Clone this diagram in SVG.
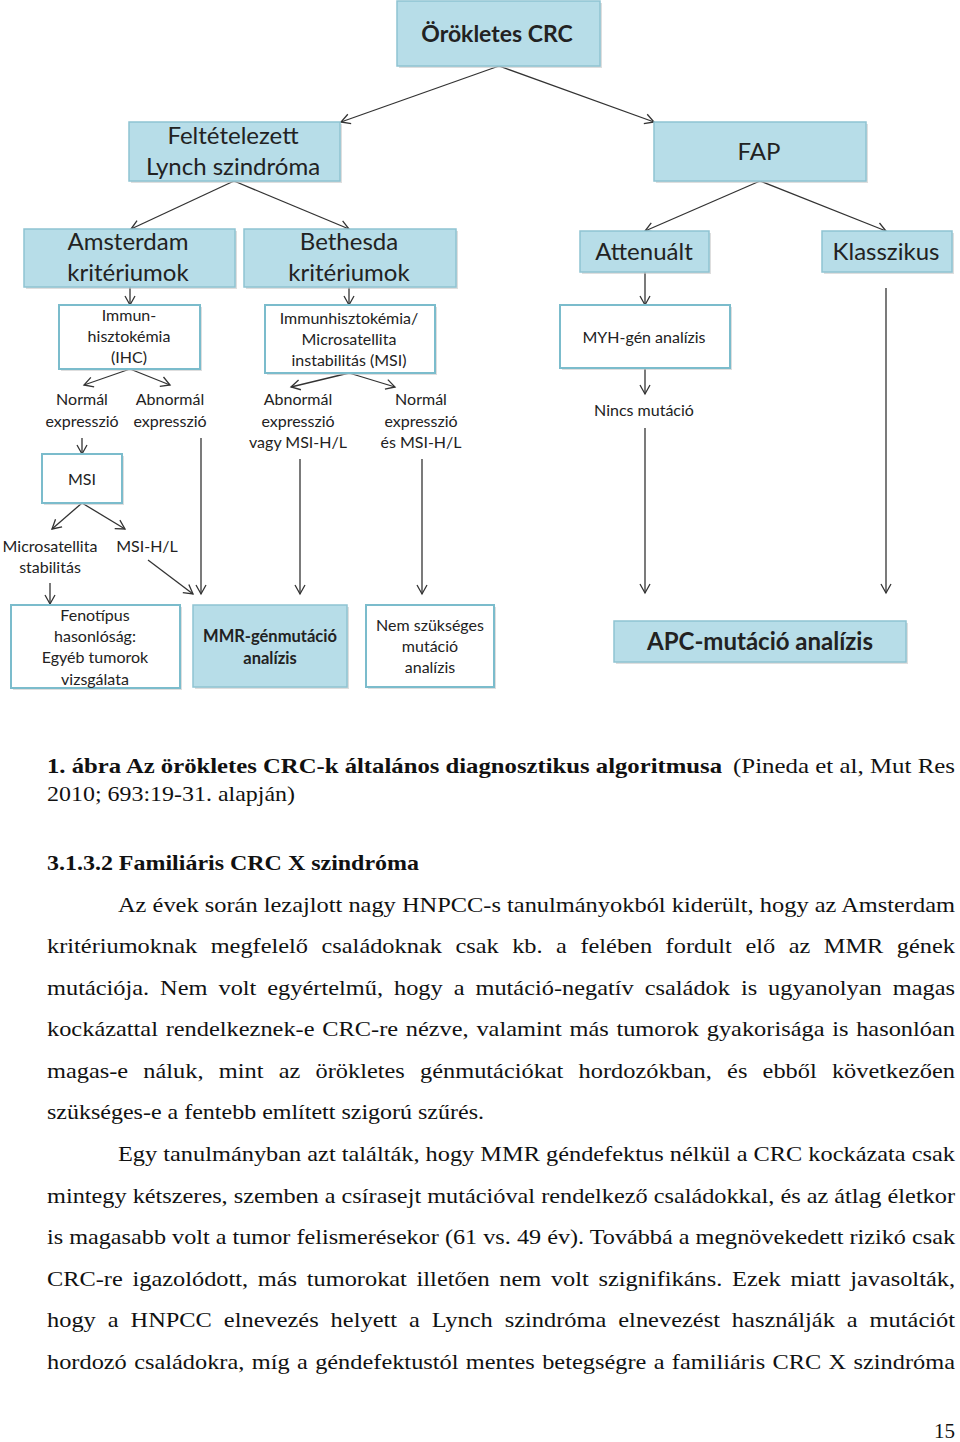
<svg xmlns="http://www.w3.org/2000/svg" width="960" height="1442" viewBox="0 0 960 1442">
<defs>
<marker id="ar" markerWidth="12" markerHeight="12" refX="10" refY="6" orient="auto" markerUnits="userSpaceOnUse">
<path d="M1,1 L10,6 L1,11" fill="none" stroke="#333" stroke-width="1.3"/>
</marker>
</defs>
<style>
.f{fill:#b7dde8;stroke:#8fc3d2;stroke-width:1.5}
.w{fill:#fff;stroke:#7bbccc;stroke-width:2}
.sh{fill:#c8c8c8;opacity:.6}
.t{font-family:Lato,"Open Sans",sans-serif;fill:#222;text-anchor:middle}
.l{font-size:24px}
.s{font-size:16px}
.b{font-weight:bold}
.c{stroke:#333;stroke-width:1.3;fill:none}
.a{marker-end:url(#ar)}
.p{font-family:"Liberation Serif","Times New Roman",serif;font-size:21px;fill:#111}
.pb{font-weight:bold}
</style>
<rect width="960" height="1442" fill="#fff"/>

<g id="connectors">
<line class="c a" x1="499" y1="66" x2="341" y2="122"/>
<line class="c a" x1="499" y1="66" x2="654" y2="122"/>
<line class="c a" x1="234" y1="181" x2="131" y2="229"/>
<line class="c a" x1="234" y1="181" x2="349" y2="229"/>
<line class="c a" x1="760" y1="181" x2="645" y2="231"/>
<line class="c a" x1="760" y1="181" x2="886" y2="231"/>
<line class="c a" x1="130" y1="287" x2="130" y2="305"/>
<line class="c a" x1="349" y1="287" x2="349" y2="305"/>
<line class="c a" x1="645" y1="272" x2="645" y2="305"/>
<line class="c a" x1="130" y1="369" x2="84" y2="385"/>
<line class="c a" x1="130" y1="369" x2="170" y2="385"/>
<line class="c a" x1="349" y1="373" x2="291" y2="387"/>
<line class="c a" x1="349" y1="373" x2="395" y2="387"/>
<line class="c a" x1="82" y1="438" x2="82" y2="454"/>
<line class="c a" x1="201" y1="438" x2="201" y2="594"/>
<line class="c a" x1="300" y1="459" x2="300" y2="594"/>
<line class="c a" x1="422" y1="459" x2="422" y2="594"/>
<line class="c a" x1="82" y1="503" x2="52" y2="529"/>
<line class="c a" x1="82" y1="503" x2="125" y2="529"/>
<line class="c a" x1="50" y1="583" x2="50" y2="604"/>
<line class="c a" x1="148" y1="560" x2="193" y2="594"/>
<line class="c a" x1="645" y1="368" x2="645" y2="394"/>
<line class="c a" x1="645" y1="428" x2="645" y2="593"/>
<line class="c a" x1="886" y1="288" x2="886" y2="593"/>
</g>

<g id="n-orokletes">
<rect class="sh" x="399" y="3" width="203" height="65"/>
<rect class="f" x="397" y="1" width="203" height="65"/>
<text class="t b" style="font-size:23px" x="497" y="42">Örökletes CRC</text>
</g>
<g id="n-lynch">
<rect class="sh" x="131" y="124" width="211" height="59"/>
<rect class="f" x="129" y="122" width="211" height="59"/>
<text class="t l" x="233" y="144">Feltételezett</text>
<text class="t l" x="233" y="175">Lynch szindróma</text>
</g>
<g id="n-fap">
<rect class="sh" x="656" y="124" width="212" height="59"/>
<rect class="f" x="654" y="122" width="212" height="59"/>
<text class="t l" x="759" y="160">FAP</text>
</g>
<g id="n-amsterdam">
<rect class="sh" x="26" y="231" width="211" height="58"/>
<rect class="f" x="24" y="229" width="211" height="58"/>
<text class="t l" x="128" y="250">Amsterdam</text>
<text class="t l" x="128" y="281">kritériumok</text>
</g>
<g id="n-bethesda">
<rect class="sh" x="246" y="231" width="212" height="58"/>
<rect class="f" x="244" y="229" width="212" height="58"/>
<text class="t l" x="349" y="250">Bethesda</text>
<text class="t l" x="349" y="281">kritériumok</text>
</g>
<g id="n-attenualt">
<rect class="sh" x="582" y="233" width="129" height="41"/>
<rect class="f" x="580" y="231" width="129" height="41"/>
<text class="t l" x="644" y="260">Attenuált</text>
</g>
<g id="n-klasszikus">
<rect class="sh" x="824" y="233" width="130" height="41"/>
<rect class="f" x="822" y="231" width="130" height="41"/>
<text class="t l" x="886" y="260">Klasszikus</text>
</g>
<g id="n-ihc">
<rect class="sh" x="61" y="307" width="141" height="64"/>
<rect class="w" x="59" y="305" width="141" height="64"/>
<text class="t s" x="129" y="321">Immun-</text>
<text class="t s" x="129" y="342">hisztokémia</text>
<text class="t s" x="129" y="363">(IHC)</text>
</g>
<g id="n-ihc-msi">
<rect class="sh" x="267" y="307" width="170" height="68"/>
<rect class="w" x="265" y="305" width="170" height="68"/>
<text class="t s" x="349" y="324">Immunhisztokémia/</text>
<text class="t s" x="349" y="345">Microsatellita</text>
<text class="t s" x="349" y="366">instabilitás (MSI)</text>
</g>
<g id="n-myh">
<rect class="sh" x="562" y="307" width="170" height="63"/>
<rect class="w" x="560" y="305" width="170" height="63"/>
<text class="t s" x="644" y="343">MYH-gén analízis</text>
</g>
<g id="lbl-normal1">
<text class="t s" x="82" y="405">Normál</text>
<text class="t s" x="82" y="427">expresszió</text>
</g>
<g id="lbl-abnormal1">
<text class="t s" x="170" y="405">Abnormál</text>
<text class="t s" x="170" y="427">expresszió</text>
</g>
<g id="lbl-abnormal2">
<text class="t s" x="298" y="405">Abnormál</text>
<text class="t s" x="298" y="427">expresszió</text>
<text class="t s" x="298" y="448">vagy MSI-H/L</text>
</g>
<g id="lbl-normal2">
<text class="t s" x="421" y="405">Normál</text>
<text class="t s" x="421" y="427">expresszió</text>
<text class="t s" x="421" y="448">és MSI-H/L</text>
</g>
<g id="lbl-nincs">
<text class="t s" x="644" y="416">Nincs mutáció</text>
</g>
<g id="n-msi">
<rect class="sh" x="44" y="456" width="80" height="49"/>
<rect class="w" x="42" y="454" width="80" height="49"/>
<text class="t s" x="82" y="485">MSI</text>
</g>
<g id="lbl-mss">
<text class="t s" x="50" y="552">Microsatellita</text>
<text class="t s" x="50" y="573">stabilitás</text>
</g>
<g id="lbl-msihl">
<text class="t s" x="147" y="552">MSI-H/L</text>
</g>
<g id="n-fenotipus">
<rect class="sh" x="13" y="607" width="169" height="83"/>
<rect class="w" x="11" y="605" width="169" height="83"/>
<text class="t s" x="95" y="621">Fenotípus</text>
<text class="t s" x="95" y="642">hasonlóság:</text>
<text class="t s" x="95" y="663">Egyéb tumorok</text>
<text class="t s" x="95" y="685">vizsgálata</text>
</g>
<g id="n-mmr">
<rect class="sh" x="195" y="607" width="154" height="82"/>
<rect class="f" x="193" y="605" width="154" height="82"/>
<text class="t b" style="font-size:16.5px" x="270" y="642">MMR-génmutáció</text>
<text class="t b" style="font-size:16.5px" x="270" y="664">analízis</text>
</g>
<g id="n-nem">
<rect class="sh" x="368" y="607" width="128" height="82"/>
<rect class="w" x="366" y="605" width="128" height="82"/>
<text class="t s" x="430" y="631">Nem szükséges</text>
<text class="t s" x="430" y="652">mutáció</text>
<text class="t s" x="430" y="673">analízis</text>
</g>
<g id="n-apc">
<rect class="sh" x="616" y="623" width="292" height="41"/>
<rect class="f" x="614" y="621" width="292" height="41"/>
<text class="t l b" x="760" y="650">APC-mutáció analízis</text>
</g>

<g id="body-text">
<text class="p pb" x="47" y="773" textLength="675" lengthAdjust="spacingAndGlyphs">1. ábra Az örökletes CRC-k általános diagnosztikus algoritmusa</text>
<text class="p" x="733" y="773" textLength="222" lengthAdjust="spacingAndGlyphs">(Pineda et al, Mut Res</text>
<text class="p" x="47" y="801" textLength="248" lengthAdjust="spacingAndGlyphs">2010; 693:19-31. alapján)</text>
<text class="p pb" x="47" y="870" textLength="372" lengthAdjust="spacingAndGlyphs">3.1.3.2 Familiáris CRC X szindróma</text>

<text class="p" x="118" y="912" textLength="837" lengthAdjust="spacingAndGlyphs">Az évek során lezajlott nagy HNPCC-s tanulmányokból kiderült, hogy az Amsterdam</text>
<text class="p" x="47" y="953" word-spacing="6.4" textLength="908" lengthAdjust="spacingAndGlyphs">kritériumoknak megfelelő családoknak csak kb. a felében fordult elő az MMR gének</text>
<text class="p" x="47" y="995" word-spacing="4.2" textLength="908" lengthAdjust="spacingAndGlyphs">mutációja. Nem volt egyértelmű, hogy a mutáció-negatív családok is ugyanolyan magas</text>
<text class="p" x="47" y="1036" word-spacing="1.4" textLength="908" lengthAdjust="spacingAndGlyphs">kockázattal rendelkeznek-e CRC-re nézve, valamint más tumorok gyakorisága is hasonlóan</text>
<text class="p" x="47" y="1078" word-spacing="7.9" textLength="908" lengthAdjust="spacingAndGlyphs">magas-e náluk, mint az örökletes génmutációkat hordozókban, és ebből következően</text>
<text class="p" x="47" y="1119" textLength="437" lengthAdjust="spacingAndGlyphs">szükséges-e a fentebb említett szigorú szűrés.</text>

<text class="p" x="118" y="1161" textLength="837" lengthAdjust="spacingAndGlyphs">Egy tanulmányban azt találták, hogy MMR géndefektus nélkül a CRC kockázata csak</text>
<text class="p" x="47" y="1203" textLength="908" lengthAdjust="spacingAndGlyphs">mintegy kétszeres, szemben a csírasejt mutációval rendelkező családokkal, és az átlag életkor</text>
<text class="p" x="47" y="1244" textLength="908" lengthAdjust="spacingAndGlyphs">is magasabb volt a tumor felismerésekor (61 vs. 49 év). Továbbá a megnövekedett rizikó csak</text>
<text class="p" x="47" y="1286" word-spacing="3.1" textLength="908" lengthAdjust="spacingAndGlyphs">CRC-re igazolódott, más tumorokat illetően nem volt szignifikáns. Ezek miatt javasolták,</text>
<text class="p" x="47" y="1327" word-spacing="5" textLength="908" lengthAdjust="spacingAndGlyphs">hogy a HNPCC elnevezés helyett a Lynch szindróma elnevezést használják a mutációt</text>
<text class="p" x="47" y="1369" word-spacing="1.1" textLength="908" lengthAdjust="spacingAndGlyphs">hordozó családokra, míg a géndefektustól mentes betegségre a familiáris CRC X szindróma</text>
<text class="p" x="955" y="1438" text-anchor="end">15</text>
</g>
</svg>
